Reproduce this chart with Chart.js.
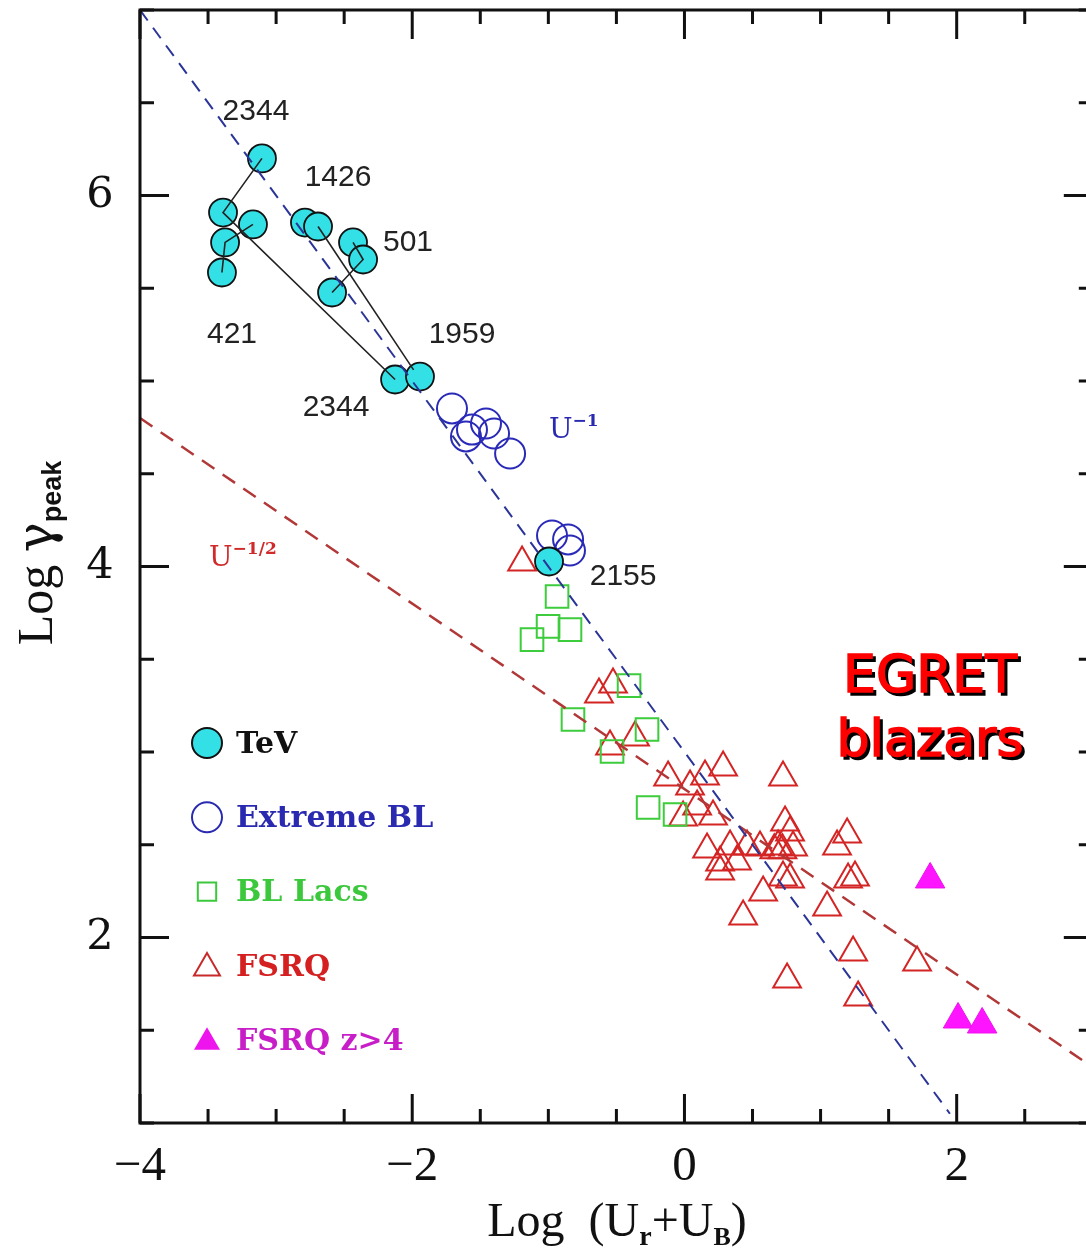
<!DOCTYPE html>
<html>
<head>
<meta charset="utf-8">
<script src="https://cdn.jsdelivr.net/npm/chart.js@4.4.0/dist/chart.umd.min.js"></script>
<style>
  html, body { margin: 0; padding: 0; background: #fff; }
  #wrap { width: 1086px; height: 1249px; }
</style>
</head>
<body>
<div id="wrap"><canvas id="chart" width="1086" height="1249"></canvas></div>
<script>
// Axes
const xTicks = [-4, -2, 0, 2];
const yTicks = [2, 4, 6];

// TeV sources (filled cyan circles)
const tevX = [-3.104, -3.390, -3.170, -3.375, -3.398, -2.788, -2.692, -2.435, -2.361, -2.589, -2.126, -1.943, -0.995];
const tevY = [6.200, 5.908, 5.844, 5.747, 5.585, 5.854, 5.833, 5.747, 5.655, 5.477, 5.008, 5.024, 4.027];

// tracks joining states of the same source
const track2344X = [-3.104, -3.390, -2.126];
const track2344Y = [6.200, 5.908, 5.008];
const track421X = [-3.398, -3.375, -3.170];
const track421Y = [5.585, 5.747, 5.844];
const track1426X = [-2.692, -1.990];
const track1426Y = [5.833, 5.060];
const track501X = [-2.435, -2.361, -2.589];
const track501Y = [5.747, 5.655, 5.477];

// Extreme BL (open blue circles)
const eblX = [-1.708, -1.605, -1.561, -1.458, -1.399, -1.281, -0.973, -0.855, -0.841];
const eblY = [4.852, 4.701, 4.738, 4.771, 4.717, 4.609, 4.167, 4.146, 4.086];

// BL Lacs (open green squares)
const blX = [-0.936, -1.002, -0.841, -1.120, -0.407, -0.819, -0.275, -0.532, -0.267, -0.069];
const blY = [3.838, 3.677, 3.660, 3.606, 3.358, 3.175, 3.121, 3.003, 2.701, 2.663];

// FSRQ (open red triangles)
const fsrqX = [-1.193, -0.628, -0.525, -0.547, -0.363, -0.120, 0.041, 0.151, 0.284, 0.724,
  0.210, -0.010, 0.093, 0.739, 0.776, 0.166, 0.335, 0.460, 0.555, 0.688,
  0.798, 0.262, 0.386, 0.262, 1.121, 1.195, 1.202, 1.253, 0.724, 0.776,
  0.578, 1.048, 0.431, 1.239, 1.709, 0.754, 1.276, 0.720, 0.660];
const fsrqY = [4.022, 3.310, 3.364, 3.030, 3.078, 2.863, 2.814, 2.868, 2.916, 2.863,
  2.652, 2.647, 2.706, 2.620, 2.566, 2.474, 2.491, 2.491, 2.485, 2.491,
  2.485, 2.404, 2.410, 2.356, 2.491, 2.555, 2.313, 2.324, 2.324, 2.313,
  2.243, 2.162, 2.113, 1.919, 1.865, 1.774, 1.677, 2.470, 2.470];

// FSRQ z>4 (filled magenta triangles)
const hzX = [1.805, 2.010, 2.187];
const hzY = [2.313, 1.558, 1.531];

// reference slopes
const uInvX = [-4, 1.95];
const uInvY = [7, 1.05];
const uHalfX = [-4, 3];
const uHalfY = [4.8, 1.3];

const pts = (xs, ys) => xs.map((v, i) => ({ x: v, y: ys[i] }));

// Texte dans le graphique
function richText(ctx, parts, x, y, align) {
  let w = 0;
  parts.forEach(p => { ctx.font = p.font; w += ctx.measureText(p.t).width + (p.gap || 0); });
  let cx = align === "center" ? x - w / 2 : x;
  parts.forEach(p => {
    ctx.font = p.font;
    if (p.color) ctx.fillStyle = p.color;
    ctx.fillText(p.t, cx, y + (p.dy || 0));
    cx += ctx.measureText(p.t).width + (p.gap || 0);
  });
}

function marker(ctx, style, x, y, r, fill, stroke, lw) {
  ctx.save();
  ctx.beginPath();
  if (style === "circle") {
    ctx.arc(x, y, r, 0, Math.PI * 2);
  } else if (style === "rect") {
    const s = r * Math.SQRT1_2;
    ctx.rect(x - s, y - s, 2 * s, 2 * s);
  } else {
    for (let k = 0; k < 3; k++) {
      const a = k * 2 * Math.PI / 3;
      const px = x + Math.sin(a) * r, py = y - Math.cos(a) * r;
      if (k === 0) ctx.moveTo(px, py); else ctx.lineTo(px, py);
    }
    ctx.closePath();
  }
  if (fill) { ctx.fillStyle = fill; ctx.fill(); }
  if (stroke) { ctx.strokeStyle = stroke; ctx.lineWidth = lw; ctx.stroke(); }
  ctx.restore();
}

const overlay = {
  id: "overlay",
  afterDatasetsDraw(chart) {
    const { ctx, chartArea: a, scales: { x, y } } = chart;
    const rightX = x.getPixelForValue(3);
    ctx.save();

    // cadre
    ctx.strokeStyle = "#111";
    ctx.lineWidth = 3;
    ctx.beginPath();
    ctx.moveTo(rightX, a.top);
    ctx.lineTo(a.left, a.top);
    ctx.lineTo(a.left, a.bottom);
    ctx.lineTo(rightX, a.bottom);
    ctx.lineTo(rightX, a.top);
    ctx.stroke();

    // graduations
    ctx.beginPath();
    for (let v = -4; v <= 3.001; v += 0.5) {
      const px = x.getPixelForValue(v);
      const len = Math.abs(v % 2) < 1e-6 ? 29 : 14;
      ctx.moveTo(px, a.bottom); ctx.lineTo(px, a.bottom - len);
      ctx.moveTo(px, a.top); ctx.lineTo(px, a.top + len);
    }
    for (let v = 1; v <= 7.001; v += 0.5) {
      const py = y.getPixelForValue(v);
      const len = Math.abs(v % 2) < 1e-6 ? 29 : 14;
      ctx.moveTo(a.left, py); ctx.lineTo(a.left + len, py);
      ctx.moveTo(rightX, py); ctx.lineTo(rightX - len, py);
    }
    ctx.stroke();

    // étiquettes des axes
    ctx.fillStyle = "#111";
    ctx.textAlign = "center";
    ctx.textBaseline = "alphabetic";
    ctx.font = "49px 'Liberation Serif'";
    xTicks.forEach(v => {
      ctx.fillText(String(v).replace("-", "\u2212"), x.getPixelForValue(v), 1180);
    });
    ctx.font = "43px 'DejaVu Serif'";
    ctx.textBaseline = "middle";
    yTicks.forEach(v => ctx.fillText(String(v), 100, y.getPixelForValue(v)));

    // titres
    ctx.textAlign = "left";
    ctx.textBaseline = "alphabetic";
    richText(ctx, [
      { t: "Log  (U", font: "48px 'Liberation Serif'" },
      { t: "r", font: "bold 28px 'Liberation Serif'", dy: 9 },
      { t: "+U", font: "48px 'Liberation Serif'" },
      { t: "B", font: "bold 26px 'Liberation Serif'", dy: 9 },
      { t: ")", font: "48px 'Liberation Serif'" }
    ], 617, 1236, "center");

    ctx.save();
    ctx.translate(52, 553);
    ctx.rotate(-Math.PI / 2);
    richText(ctx, [
      { t: "Log ", font: "50px 'Liberation Serif'" },
      { t: "\u03b3", font: "50px 'DejaVu Serif'" },
      { t: "peak", font: "bold 27px 'Liberation Sans'", dy: 9 }
    ], 0, 0, "center");
    ctx.restore();

    // noms des sources
    ctx.fillStyle = "#222";
    ctx.textAlign = "center";
    ctx.textBaseline = "middle";
    ctx.font = "30px 'Liberation Sans'";
    [["2344", -3.148, 6.453], ["1426", -2.545, 6.097], ["501", -2.031, 5.747],
     ["421", -3.324, 5.251], ["1959", -1.634, 5.251], ["2344", -2.560, 4.857],
     ["2155", -0.451, 3.946]].forEach(l => {
      ctx.fillText(l[0], x.getPixelForValue(l[1]), y.getPixelForValue(l[2]));
    });

    // pentes
    ctx.textAlign = "left";
    ctx.textBaseline = "alphabetic";
    richText(ctx, [
      { t: "U", font: "28px 'DejaVu Serif'", color: "#2a2ab0" },
      { t: "\u2212\u0031", font: "bold 17px 'DejaVu Serif'", dy: -12 }
    ], 549, 438);
    richText(ctx, [
      { t: "U", font: "28px 'DejaVu Serif'", color: "#d02a2a" },
      { t: "\u2212\u0031/\u0032", font: "bold 17px 'DejaVu Serif'", dy: -12 }
    ], 209, 566);

    // EGRET blazars
    ctx.textAlign = "center";
    ctx.textBaseline = "middle";
    ctx.font = "52px 'DejaVu Sans'";
    ctx.lineWidth = 1.5;
    [["EGRET", 678], ["blazars", 742]].forEach(l => {
      ctx.fillStyle = "#000"; ctx.strokeStyle = "#000";
      ctx.fillText(l[0], 933, l[1] + 3);
      ctx.strokeText(l[0], 933, l[1] + 3);
      ctx.fillStyle = "#ff0000"; ctx.strokeStyle = "#ff0000";
      ctx.fillText(l[0], 930, l[1]);
      ctx.strokeText(l[0], 930, l[1]);
    });

    // légende
    const leg = [
      ["TeV", "circle", 15, "#33e0e6", "#111", "#111"],
      ["Extreme BL", "circle", 15, null, "#2a2ab0", "#2a2ab0"],
      ["BL Lacs", "rect", 13, null, "#3cc83c", "#3cc83c"],
      ["FSRQ", "triangle", 15, null, "#c82a2a", "#d42020"],
      ["FSRQ z>4", "triangle", 15, "#ee14ee", null, "#c81ec8"]
    ];
    ctx.textAlign = "left";
    ctx.font = "bold 30px 'DejaVu Serif'";
    leg.forEach((l, i) => {
      const cy = 743 + i * 74.3;
      marker(ctx, l[1], 207, cy + (l[1] === "triangle" ? 2 : 0), l[2], l[3], l[4], 2);
      ctx.fillStyle = l[5];
      ctx.fillText(l[0], 236, cy + 2);
    });

    ctx.restore();
  }
};

new Chart(document.getElementById("chart"), {
  type: "scatter",
  data: {
    datasets: [
      { label: "U-1", data: pts(uInvX, uInvY), showLine: true, borderColor: "#2b3598",
        borderDash: [13, 9], borderWidth: 2, pointRadius: 0, order: 0 },
      { label: "U-1/2", data: pts(uHalfX, uHalfY), showLine: true, borderColor: "#b23838",
        borderDash: [15, 10], borderWidth: 2.5, pointRadius: 0, order: 1 },
      { label: "2344", data: pts(track2344X, track2344Y), showLine: true, borderColor: "#222",
        borderWidth: 1.6, pointRadius: 0, order: 2 },
      { label: "421", data: pts(track421X, track421Y), showLine: true, borderColor: "#222",
        borderWidth: 1.6, pointRadius: 0, order: 2 },
      { label: "1426", data: pts(track1426X, track1426Y), showLine: true, borderColor: "#222",
        borderWidth: 1.6, pointRadius: 0, order: 2 },
      { label: "501", data: pts(track501X, track501Y), showLine: true, borderColor: "#222",
        borderWidth: 1.6, pointRadius: 0, order: 2 },
      { label: "TeV", data: pts(tevX, tevY), pointStyle: "circle", pointRadius: 14,
        backgroundColor: "#33e0e6", borderColor: "#111", borderWidth: 1.8, order: 3 },
      { label: "Extreme BL", data: pts(eblX, eblY), pointStyle: "circle", pointRadius: 15,
        backgroundColor: "rgba(0,0,0,0)", borderColor: "#2a2ab8", borderWidth: 2, order: 4 },
      { label: "BL Lacs", data: pts(blX, blY), pointStyle: "rect", pointRadius: 16,
        backgroundColor: "rgba(0,0,0,0)", borderColor: "#3ccc3c", borderWidth: 2, order: 5 },
      { label: "FSRQ", data: pts(fsrqX, fsrqY), pointStyle: "triangle", pointRadius: 16,
        backgroundColor: "rgba(0,0,0,0)", borderColor: "#d42424", borderWidth: 2, order: 6 },
      { label: "FSRQ z>4", data: pts(hzX, hzY), pointStyle: "triangle", pointRadius: 17,
        backgroundColor: "#ff14ff", borderColor: "#ee10ee", borderWidth: 1, order: 7 }
    ]
  },
  options: {
    responsive: false,
    animation: false,
    layout: { autoPadding: false, padding: { left: 140, top: 10, right: 0, bottom: 126 } },
    plugins: { legend: { display: false }, tooltip: { enabled: false } },
    scales: {
      x: { type: "linear", min: -4, max: 2.95, display: false },
      y: { type: "linear", min: 1, max: 7, display: false }
    }
  },
  plugins: [overlay]
});
</script>
</body>
</html>
